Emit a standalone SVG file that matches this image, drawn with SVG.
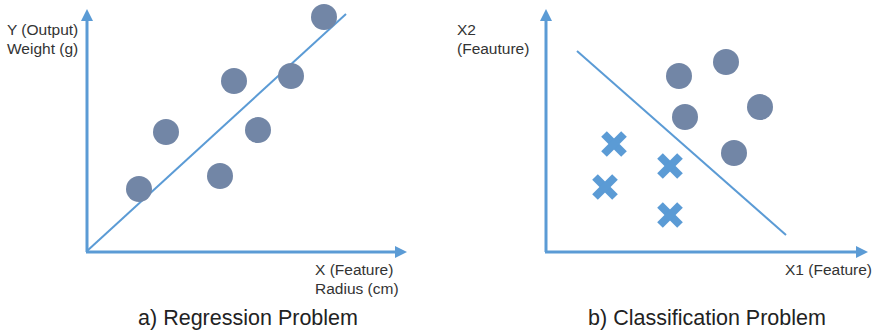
<svg xmlns="http://www.w3.org/2000/svg" width="879" height="333" viewBox="0 0 879 333">
  <defs>
    <style>
      .axis { stroke: #5b9bd5; stroke-width: 3; fill: none; }
      .fit { stroke: #5b9bd5; stroke-width: 2; fill: none; }
      .dot { fill: #7286a6; }
      .cross { stroke: #5b9bd5; stroke-width: 8; stroke-linecap: butt; fill: none; }
      .lbl { font-family: "Liberation Sans", Arial, sans-serif; font-size: 15.5px; fill: #333; }
      .cap { font-family: "Liberation Sans", Arial, sans-serif; font-size: 21.5px; fill: #222; text-anchor: middle; }
    </style>
    <marker id="arrow" viewBox="0 0 10 10" refX="5" refY="5" markerWidth="4" markerHeight="4" orient="auto-start-reverse">
      <path d="M0,0 L10,5 L0,10 z" fill="#5b9bd5"/>
    </marker>
    <g id="x-mark">
      <line class="cross" x1="-10" y1="-10" x2="10" y2="10"/>
      <line class="cross" x1="-10" y1="10" x2="10" y2="-10"/>
    </g>
  </defs>

  <rect width="879" height="333" fill="#ffffff"/>

  <!-- a) regression -->
  <g id="regression">
    <g id="reg-axes">
      <line class="axis" x1="86" y1="252" x2="401" y2="252" marker-end="url(#arrow)"/>
      <line class="axis" x1="87" y1="252" x2="87" y2="15" marker-end="url(#arrow)"/>
    </g>
    <g id="reg-fit">
      <line class="fit" x1="87" y1="251" x2="346" y2="14"/>
    </g>
    <g id="reg-points">
      <circle class="dot" cx="139" cy="189" r="13"/>
      <circle class="dot" cx="166" cy="132" r="13"/>
      <circle class="dot" cx="234" cy="81" r="13"/>
      <circle class="dot" cx="220" cy="176" r="13"/>
      <circle class="dot" cx="258" cy="130" r="13"/>
      <circle class="dot" cx="291" cy="76" r="13"/>
      <circle class="dot" cx="324" cy="17" r="13"/>
    </g>
    <g id="reg-labels">
      <text class="lbl" x="7" y="35">Y (Output)</text>
      <text class="lbl" x="7" y="54">Weight (g)</text>
      <text class="lbl" x="315" y="275">X (Feature)</text>
      <text class="lbl" x="315" y="294">Radius (cm)</text>
      <text class="cap" x="248" y="325">a) Regression Problem</text>
    </g>
  </g>

  <!-- b) classification -->
  <g id="classification">
    <g id="cls-axes">
      <line class="axis" x1="545" y1="252" x2="862" y2="252" marker-end="url(#arrow)"/>
      <line class="axis" x1="546" y1="252" x2="546" y2="15" marker-end="url(#arrow)"/>
    </g>
    <g id="cls-boundary">
      <line class="fit" x1="577" y1="51" x2="786" y2="235"/>
    </g>
    <g id="cls-circles">
      <circle class="dot" cx="679" cy="76" r="13"/>
      <circle class="dot" cx="726" cy="62" r="13"/>
      <circle class="dot" cx="685" cy="117" r="13"/>
      <circle class="dot" cx="760" cy="107" r="13"/>
      <circle class="dot" cx="734" cy="153" r="13"/>
    </g>
    <g id="cls-crosses">
      <use href="#x-mark" x="614" y="144"/>
      <use href="#x-mark" x="605" y="187"/>
      <use href="#x-mark" x="670" y="166"/>
      <use href="#x-mark" x="670" y="215"/>
    </g>
    <g id="cls-labels">
      <text class="lbl" x="457" y="35">X2</text>
      <text class="lbl" x="457" y="54">(Feauture)</text>
      <text class="lbl" x="785" y="275">X1 (Feature)</text>
      <text class="cap" x="707" y="325">b) Classification Problem</text>
    </g>
  </g>
</svg>
